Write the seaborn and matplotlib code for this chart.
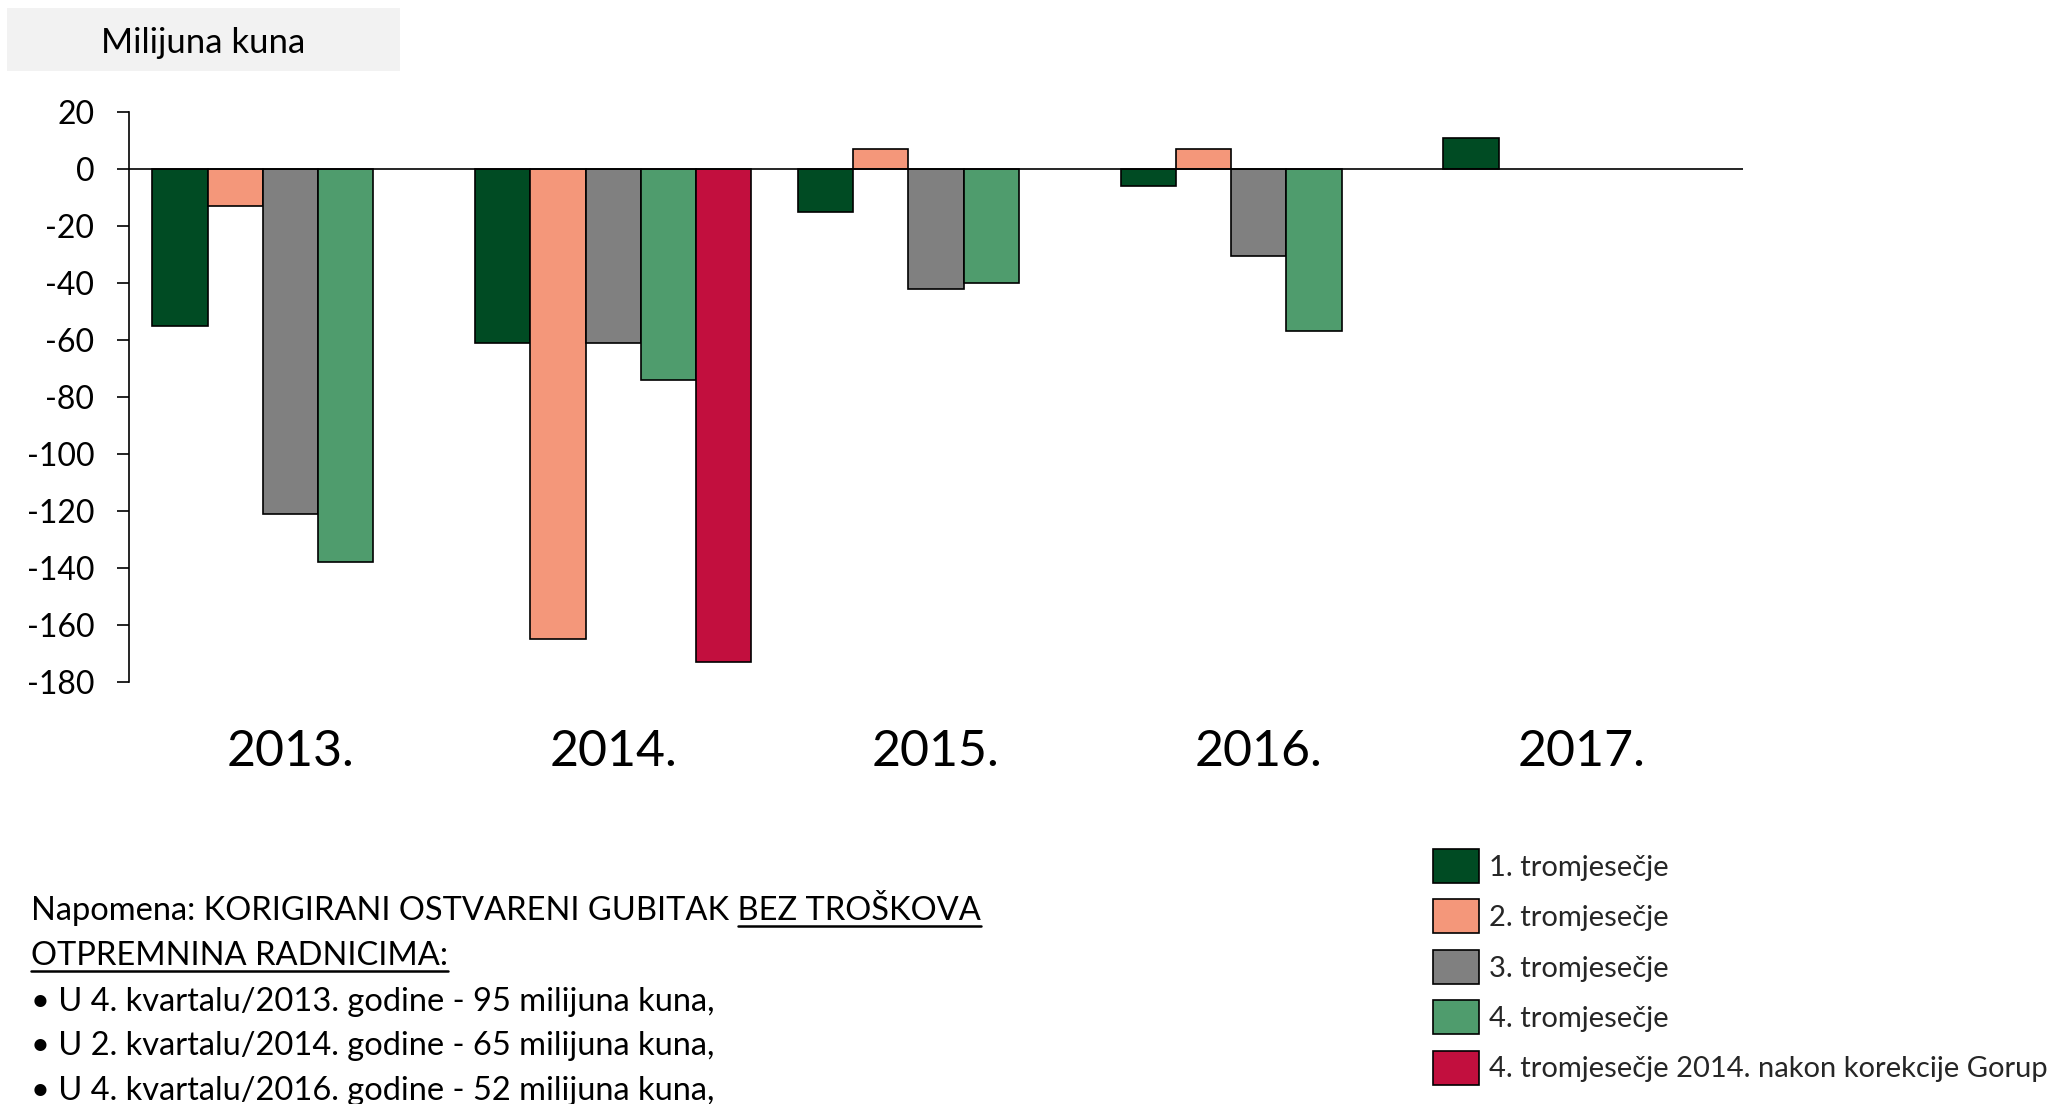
import numpy as np
import pandas as pd
import matplotlib
matplotlib.use('Agg')
import matplotlib.pyplot as plt
from matplotlib.patches import Patch, Rectangle
from matplotlib.lines import Line2D
import seaborn as sns

# podaci (milijuna kuna), ocitano s grafa
years = ['2013.', '2014.', '2015.', '2016.', '2017.']
series = ['1. tromjesečje', '2. tromjesečje', '3. tromjesečje', '4. tromjesečje',
          '4. tromjesečje 2014. nakon korekcije Gorup']
q1 = [-55, -61, -15, -6, 11]
q2 = [-13, -165, 7, 7, np.nan]
q3 = [-121, -61, -42, -30.5, np.nan]
q4 = [-138, -74, -40, -57, np.nan]
q4_korekcija = [np.nan, -173, np.nan, np.nan, np.nan]
colors = ['#004B23', '#F4977A', '#808080', '#4F9C6D', '#C20F3E']
y_ticks = list(range(-180, 21, 20))

note_lines = [
    'Napomena: KORIGIRANI OSTVARENI GUBITAK BEZ TROŠKOVA',
    'OTPREMNINA RADNICIMA:',
    '• U 4. kvartalu/2013. godine - 95 milijuna kuna,',
    '• U 2. kvartalu/2014. godine - 65 milijuna kuna,',
    '• U 4. kvartalu/2016. godine - 52 milijuna kuna,',
]
underlined = ['BEZ TROŠKOVA', 'OTPREMNINA RADNICIMA:', None, None, None]

sns.set_style('white')
plt.rcParams['font.family'] = ['Lato', 'DejaVu Sans']

W, H = 2057, 1104
fig = plt.figure(figsize=(W / 100, H / 100), dpi=100)
ax = fig.add_axes([129 / W, 1 - 682 / H, (1743 - 129) / W, (682 - 112) / H])

# long format za seaborn
rows = []
for name, vals in zip(series, [q1, q2, q3, q4, q4_korekcija]):
    for y, v in zip(years, vals):
        if not np.isnan(v):
            rows.append({'godina': y, 'serija': name, 'vrijednost': v})
df = pd.DataFrame(rows)

sns.barplot(data=df, x='godina', y='vrijednost', hue='serija', order=years,
            hue_order=series, palette=colors, saturation=1, width=0.856, gap=0,
            edgecolor='black', linewidth=1.2, errorbar=None, legend=False, ax=ax)

ax.set_xlim(-0.5, 4.5)
ax.set_ylim(-180, 20)
ax.set_yticks(y_ticks)
ax.set_yticklabels([str(t) for t in y_ticks])
ax.axhline(0, color='black', lw=1.2, zorder=5)
sns.despine(ax=ax, bottom=True)
ax.spines['left'].set_linewidth(1.2)
ax.spines['left'].set_color('black')
ax.tick_params(axis='y', direction='out', length=9, width=1.2, pad=16,
               labelsize=23, colors='black', left=True)
ax.tick_params(axis='x', length=0, pad=34, labelsize=36, colors='black')
ax.set_xlabel('')
ax.set_ylabel('')

# naslov osi u sivom okviru
fig.add_artist(Rectangle((7 / W, 1 - 71 / H), 393 / W, 63 / H,
                         transform=fig.transFigure, facecolor='#F2F2F2',
                         edgecolor='none'))
fig.text(203 / W, 1 - 43 / H, 'Milijuna kuna', ha='center', va='center',
         fontsize=25, color='black')

# legenda
handles = [Patch(facecolor=c, edgecolor='black', linewidth=1.2) for c in colors]
fig.legend(handles, series, loc='upper left', bbox_to_anchor=(1433 / W, 1 - 849 / H),
           frameon=False, fontsize=21, handlelength=1.58, handleheight=1.42,
           labelspacing=0.56, handletextpad=0.34, borderpad=0, borderaxespad=0)

# napomena
baselines = [920, 965, 1011, 1055, 1100]
texts = []
for line, b in zip(note_lines, baselines):
    texts.append(fig.text(31 / W, 1 - b / H, line, ha='left', va='baseline',
                          fontsize=23.5, color='black'))

fig.canvas.draw()
renderer = fig.canvas.get_renderer()
for t, seg, b in zip(texts, underlined, baselines):
    if seg is None:
        continue
    bb = t.get_window_extent(renderer)
    tmp = fig.text(0, 0, seg, fontsize=23.5)
    w = tmp.get_window_extent(renderer).width
    tmp.remove()
    y = 1 - (b + 6) / H
    fig.add_artist(Line2D([(bb.x1 - w) / W, bb.x1 / W], [y, y],
                          transform=fig.transFigure, color='black', lw=1.8))

fig.savefig('out.png', dpi=100)
